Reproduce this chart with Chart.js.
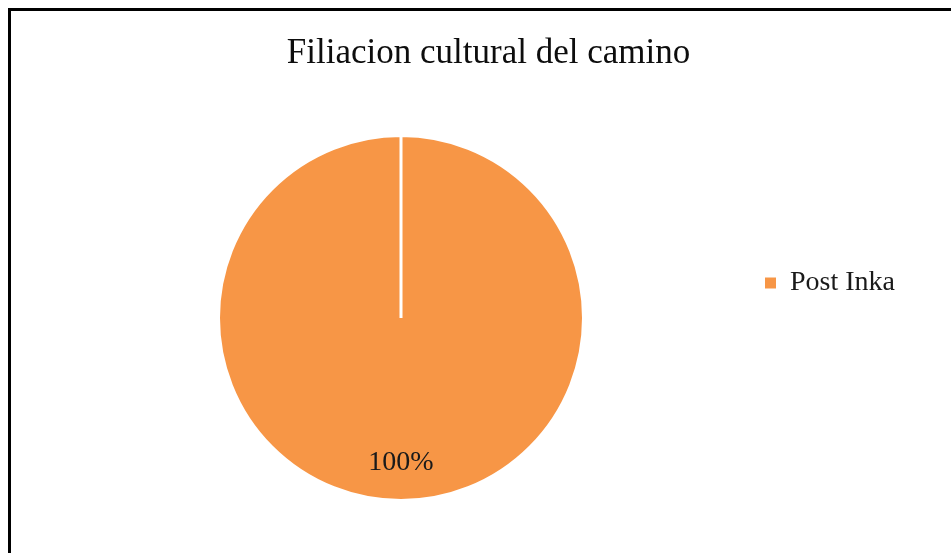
<!DOCTYPE html>
<html>
<head>
<meta charset="utf-8">
<script src="https://cdn.jsdelivr.net/npm/chart.js@4/dist/chart.umd.min.js"></script>
<style>
  html, body { margin: 0; padding: 0; background: #fff; overflow: hidden; width: 951px; height: 553px; }
  #frame { position: absolute; left: 8px; top: 8px; width: 1000px; height: 600px;
           border-top: 3px solid #000; border-left: 3px solid #000; }
  #c { position: absolute; left: 11px; top: 11px; }
</style>
</head>
<body>
<div id="frame"></div>
<canvas id="c" width="955" height="544"></canvas>
<script>
const titleText = "Filiacion cultural del camino";
const categories = ["Post Inka"];
const values = [100];
const colors = ["#F79646"];

const W = 955, H = 544;
const FONT = "'Liberation Serif', 'Times New Roman', serif";
const legendFontSize = 28;
const legendPad = 180;
const boxW = 11;
const pieLeft = 206, pieDiameter = 368;

// measure legend text to size the layout padding
const mctx = document.createElement('canvas').getContext('2d');
mctx.font = legendFontSize + "px " + FONT;
const textW = Math.max(...categories.map(t => mctx.measureText(t).width));
const legendWidth = legendPad + boxW + legendFontSize / 2 + textW + 10;
const padRight = W - (pieLeft + pieDiameter) - legendWidth;

const labelPlugin = {
  id: 'pctLabel',
  afterLayout(chart) {
    // centre the title over the whole chart box
    if (chart.titleBlock) {
      chart.titleBlock.left = 0;
      chart.titleBlock.right = chart.width;
      chart.titleBlock.width = chart.width;
    }
  },
  afterDatasetsDraw(chart) {
    const ctx = chart.ctx;
    const meta = chart.getDatasetMeta(0);
    const data = chart.data.datasets[0].data;
    const total = data.reduce((a, b) => a + b, 0);
    meta.data.forEach((arc, i) => {
      const p = arc.getProps(['x', 'y', 'startAngle', 'endAngle', 'outerRadius'], true);
      const mid = (p.startAngle + p.endAngle) / 2;
      const r = p.outerRadius * 0.79;
      ctx.save();
      ctx.font = "28px " + FONT;
      ctx.fillStyle = '#1a1a1a';
      ctx.textAlign = 'center';
      ctx.textBaseline = 'middle';
      ctx.fillText(Math.round(data[i] / total * 100) + '%', p.x + Math.cos(mid) * r, p.y + Math.sin(mid) * r);
      ctx.restore();
    });
  }
};

new Chart(document.getElementById('c'), {
  type: 'pie',
  data: {
    labels: categories,
    datasets: [{
      data: values,
      backgroundColor: colors,
      borderColor: '#ffffff',
      borderWidth: 3
    }]
  },
  options: {
    responsive: false,
    animation: false,
    layout: { padding: { left: pieLeft, right: padRight, top: 0, bottom: 0 } },
    plugins: {
      tooltip: { enabled: false },
      title: {
        display: true,
        text: titleText,
        color: '#0d0d0d',
        font: { family: FONT, size: 35, weight: 'normal', lineHeight: 1.2 },
        padding: { top: 22, bottom: 6 }
      },
      legend: {
        display: true,
        position: 'right',
        labels: {
          padding: legendPad,
          boxWidth: boxW,
          boxHeight: boxW,
          color: '#1a1a1a',
          font: { family: FONT, size: legendFontSize },
          generateLabels(chart) {
            const items = Chart.overrides.pie.plugins.legend.labels.generateLabels(chart);
            return items.map(it => Object.assign(it, { lineWidth: 0, strokeStyle: 'rgba(0,0,0,0)' }));
          }
        }
      }
    }
  },
  plugins: [labelPlugin]
});
</script>
</body>
</html>
